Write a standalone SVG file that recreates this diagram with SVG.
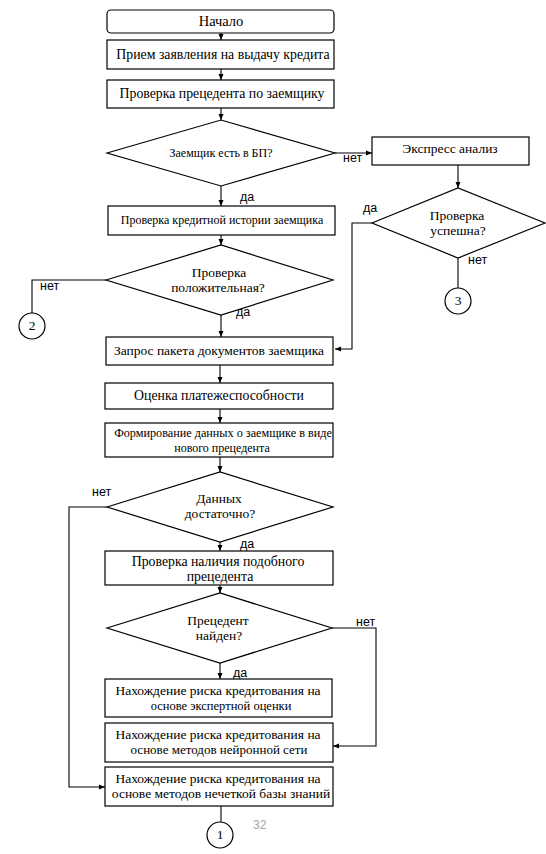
<svg xmlns="http://www.w3.org/2000/svg" width="546" height="854" viewBox="0 0 546 854">
<defs>
<marker id="ah" markerWidth="8" markerHeight="8" refX="6" refY="3" orient="auto" markerUnits="userSpaceOnUse">
<path d="M0,0.5 L6,3 L0,5.5 Z" fill="#000"/>
</marker>
<style>
.b{fill:#fff;stroke:#000;stroke-width:1.2}
.t{font-size:13.5px;fill:#000;text-anchor:middle}
.s{font-size:12px}
.m{font-size:12.5px}
.g{font-size:13.8px}
.l{font-size:12.5px;fill:#000}
.c{fill:none;stroke:#000;stroke-width:1.1}
.a{fill:none;stroke:#000;stroke-width:1.1;marker-end:url(#ah)}
</style>
</defs>
<rect width="546" height="854" fill="#fff"/>
<g id="connectors" font-family="Liberation Sans, Arial, sans-serif">
<line class="a" x1="221" y1="33" x2="221" y2="40"/>
<line class="a" x1="221" y1="69" x2="221" y2="80"/>
<line class="a" x1="221" y1="108" x2="221" y2="120"/>
<line class="a" x1="335" y1="153" x2="372" y2="153"/>
<line class="a" x1="458" y1="165" x2="458" y2="188"/>
<line class="c" x1="458" y1="258" x2="458" y2="288"/>
<polyline class="a" points="372,223 352,223 352,349 335,349"/>
<line class="a" x1="221" y1="186" x2="221" y2="206"/>
<line class="a" x1="221" y1="235" x2="221" y2="245"/>
<polyline class="c" points="106,280 32,280 32,313"/>
<line class="a" x1="221" y1="315" x2="221" y2="337"/>
<line class="a" x1="220" y1="365" x2="220" y2="383"/>
<line class="a" x1="220" y1="409" x2="220" y2="423"/>
<line class="a" x1="220" y1="457" x2="220" y2="472"/>
<polyline class="a" points="107,507 69,507 69,787 105,787"/>
<line class="a" x1="220" y1="542" x2="220" y2="551"/>
<line class="a" x1="220" y1="585" x2="220" y2="593"/>
<polyline class="a" points="332,628 376,628 376,746 333,746"/>
<line class="a" x1="220" y1="663" x2="220" y2="679"/>
<line class="c" x1="221" y1="806" x2="221" y2="822"/>
<text class="l" x="343" y="162">нет</text>
<text class="l" x="240" y="201">да</text>
<text class="l" x="363" y="212">да</text>
<text class="l" x="468" y="264">нет</text>
<text class="l" x="40" y="290">нет</text>
<text class="l" x="236" y="316">да</text>
<text class="l" x="92" y="496">нет</text>
<text class="l" x="240" y="548">да</text>
<text class="l" x="356" y="626">нет</text>
<text class="l" x="233" y="677">да</text>
</g>
<g font-family="Liberation Serif, Times New Roman, serif">
<g id="start"><rect class="b" x="107" y="10" width="227" height="23" rx="4"/><text class="t" x="221" y="26" style="font-size:14.5px">Начало</text></g>
<g id="receive"><rect class="b" x="107" y="40" width="227" height="29"/><text class="t g" x="223" y="59">Прием заявления на выдачу кредита</text></g>
<g id="precedent-check"><rect class="b" x="107" y="80" width="227" height="28"/><text class="t g" x="222" y="98">Проверка прецедента по заемщику</text></g>
<g id="in-bp"><polygon class="b" points="107,153 221,120 335,153 221,186"/><text class="t s" x="221" y="157">Заемщик есть в БП?</text></g>
<g id="express"><rect class="b" x="372" y="137" width="157" height="28"/><text class="t" x="450" y="153">Экспресс анализ</text></g>
<g id="check-success"><polygon class="b" points="372,223 458,188 545,223 458,258"/><text class="t" x="457" y="220">Проверка</text><text class="t" x="458" y="235">успешна?</text></g>
<g id="conn3"><circle class="b" cx="458" cy="301" r="13"/><text class="t" x="458" y="305">3</text></g>
<g id="credit-history"><rect class="b" x="108" y="206" width="227" height="29"/><text class="t s" x="222" y="224">Проверка кредитной истории заемщика</text></g>
<g id="check-positive"><polygon class="b" points="106,280 221,245 333,280 221,315"/><text class="t" x="219" y="277">Проверка</text><text class="t" x="218" y="292">положительная?</text></g>
<g id="conn2"><circle class="b" cx="32" cy="326" r="13"/><text class="t" x="32" y="330">2</text></g>
<g id="docs-request"><rect class="b" x="106" y="337" width="227" height="28"/><text class="t" x="219" y="355">Запрос пакета документов заемщика</text></g>
<g id="solvency"><rect class="b" x="105" y="383" width="228" height="26"/><text class="t g" x="219" y="400">Оценка платежеспособности</text></g>
<g id="form-data"><rect class="b" x="105" y="423" width="228" height="34"/><text class="t" x="223" y="437" style="font-size:12.2px">Формирование данных о заемщике в виде</text><text class="t s" x="222" y="452">нового прецедента</text></g>
<g id="enough-data"><polygon class="b" points="107,507 220,472 333,507 220,542"/><text class="t" x="219" y="503">Данных</text><text class="t" x="220" y="518">достаточно?</text></g>
<g id="similar-check"><rect class="b" x="105" y="551" width="228" height="34"/><text class="t g" x="218" y="566">Проверка наличия подобного</text><text class="t g" x="220" y="581">прецедента</text></g>
<g id="precedent-found"><polygon class="b" points="107,628 220,593 332,628 220,663"/><text class="t" x="218" y="625">Прецедент</text><text class="t" x="219" y="640">найден?</text></g>
<g id="risk-expert"><rect class="b" x="105" y="679" width="227" height="38"/><text class="t" x="218" y="695">Нахождение риска кредитования на</text><text class="t m" x="221" y="710">основе экспертной оценки</text></g>
<g id="risk-neural"><rect class="b" x="105" y="723" width="228" height="39"/><text class="t" x="218" y="739">Нахождение риска кредитования на</text><text class="t" x="219" y="754" style="font-size:13px">основе методов нейронной сети</text></g>
<g id="risk-fuzzy"><rect class="b" x="105" y="767" width="228" height="39"/><text class="t" x="218" y="783">Нахождение риска кредитования на</text><text class="t" x="221" y="798">основе методов нечеткой базы знаний</text></g>
<g id="conn1"><circle class="b" cx="220" cy="835" r="13"/><text class="t" x="220" y="839">1</text></g>
</g>
<text x="253" y="829" font-family="Liberation Sans, Arial, sans-serif" font-size="12" fill="#a6a6a6">32</text>
</svg>
